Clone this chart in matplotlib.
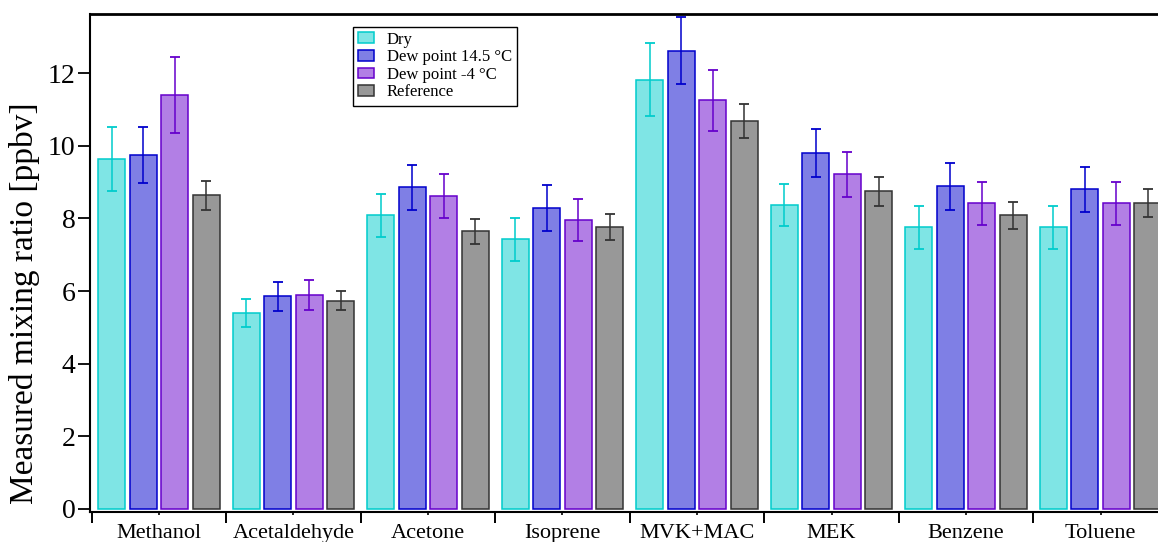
import matplotlib
matplotlib.use("Agg")
import matplotlib.pyplot as plt
from matplotlib.colors import to_rgba
import numpy as np

plt.rcParams['font.family'] = ['Liberation Serif', 'DejaVu Serif']

# data
compounds = ['Methanol', 'Acetaldehyde', 'Acetone', 'Isoprene',
             'MVK+MAC', 'MEK', 'Benzene', 'Toluene']
series = ['Dry', 'Dew point 14.5 °C', 'Dew point -4 °C', 'Reference']

dry = [9.63, 5.39, 8.08, 7.42, 11.82, 8.37, 7.75, 7.75]
dry_err = [0.88, 0.38, 0.58, 0.60, 1.00, 0.58, 0.59, 0.60]
dew145 = [9.74, 5.85, 8.85, 8.29, 12.62, 9.80, 8.88, 8.80]
dew145_err = [0.77, 0.41, 0.61, 0.63, 0.93, 0.67, 0.64, 0.62]
dewm4 = [11.40, 5.90, 8.62, 7.95, 11.25, 9.21, 8.41, 8.41]
dewm4_err = [1.05, 0.41, 0.60, 0.58, 0.84, 0.63, 0.60, 0.60]
ref = [8.63, 5.73, 7.64, 7.76, 10.68, 8.75, 8.08, 8.43]
ref_err = [0.39, 0.26, 0.35, 0.36, 0.48, 0.40, 0.36, 0.38]

values = [dry, dew145, dewm4, ref]
errors = [dry_err, dew145_err, dewm4_err, ref_err]
edge_colors = ['#00CCCC', '#0000CC', '#6600CC', '#333333']

fig = plt.figure(figsize=(11.58, 5.42), dpi=100)
W, H = 1158, 542
ax = fig.add_axes([90 / W, (H - 512) / H, (1169.5 - 90) / W, (512 - 14) / H])

x = np.arange(len(compounds))
pitch = 0.234
width = 0.2
for j in range(4):
    pos = x + (j - 1.5) * pitch
    ax.bar(pos, values[j], width=width, color=to_rgba(edge_colors[j], 0.5),
           edgecolor=edge_colors[j], linewidth=1.1, label=series[j], zorder=2)
    ax.errorbar(pos, values[j], yerr=errors[j], fmt='none', ecolor=edge_colors[j],
                elinewidth=1.1, capsize=3.6, capthick=1.3, zorder=3)

ax.set_xlim(-0.513, 7.513)
ax.set_ylim(-0.083, 13.625)

# x axis: long ticks at group boundaries, short ticks with labels at centres
ax.set_xticks(np.arange(-0.5, 8.0, 1.0))
ax.set_xticklabels([])
ax.set_xticks(x, minor=True)
ax.set_xticklabels(compounds, minor=True, fontsize=16)
ax.tick_params(axis='x', which='major', direction='out', length=8, width=1.4)
ax.tick_params(axis='x', which='minor', direction='out', length=2.5, width=1.2, pad=6)

ax.set_yticks(np.arange(0, 13, 2))
ax.tick_params(axis='y', direction='out', length=8.5, width=1.3, labelsize=20, pad=2)
ax.set_ylabel('Measured mixing ratio [ppbv]', fontsize=24)
ax.yaxis.set_label_coords(-(90 - 40) / 1079.5, 0.42)

for side in ['left', 'bottom']:
    ax.spines[side].set_linewidth(1.5)
ax.spines['top'].set_linewidth(2.0)
ax.spines['right'].set_visible(False)

leg = ax.legend(loc='upper left', bbox_to_anchor=(352.7 / W, 1 - 26.5 / H),
                bbox_transform=fig.transFigure, fontsize=12, frameon=True,
                fancybox=False, framealpha=1, edgecolor='black',
                handlelength=0.95, handleheight=0.6, handletextpad=0.8,
                labelspacing=0.1, borderpad=0.3, borderaxespad=0)
leg.get_frame().set_linewidth(1.0)

fig.savefig('out.png', dpi=100)
